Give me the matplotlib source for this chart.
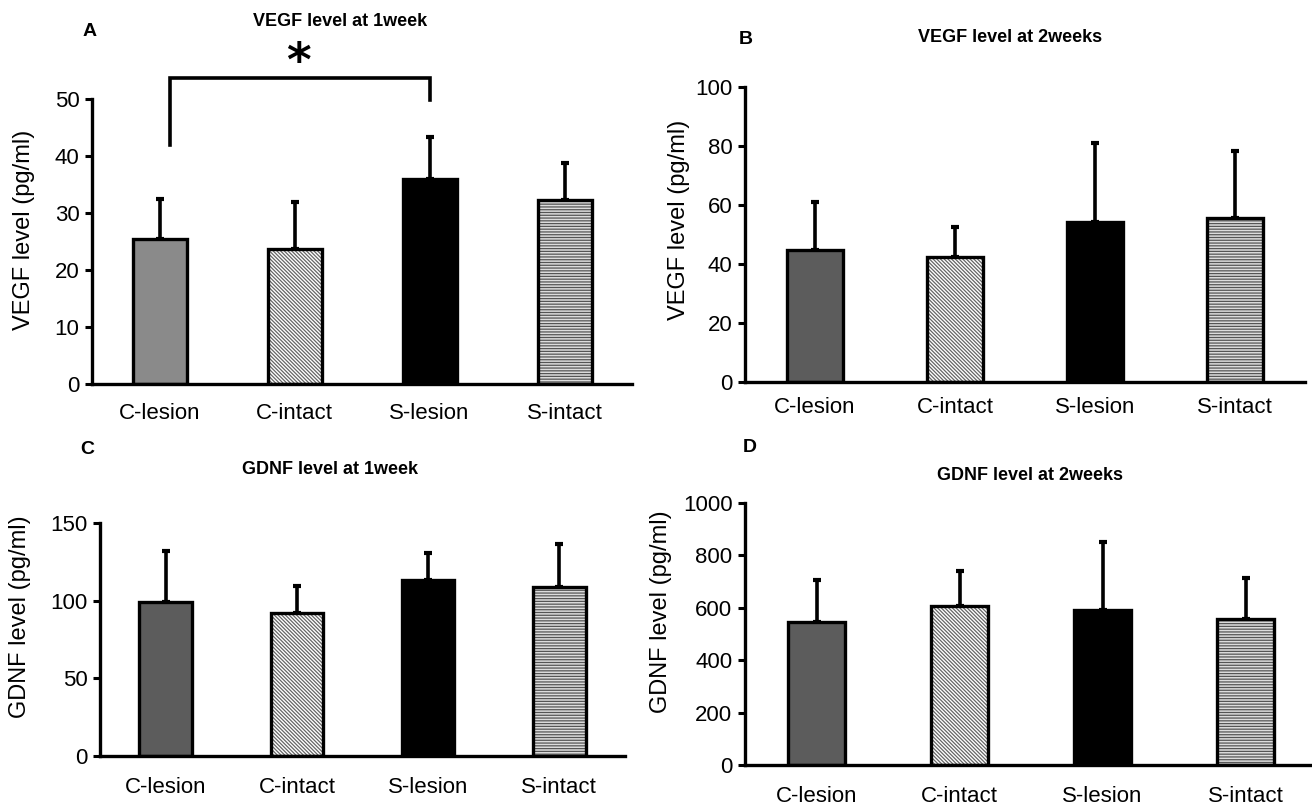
import matplotlib
matplotlib.use("Agg")
import matplotlib.pyplot as plt
import numpy as np

plt.rcParams['font.family'] = ['Liberation Sans', 'DejaVu Sans']
plt.rcParams['hatch.linewidth'] = 0.9

groups = ["C-lesion", "C-intact", "S-lesion", "S-intact"]

# panel data (mean, SD)
vegf_1w = [25.5, 23.7, 36.0, 32.2]
vegf_1w_sd = [7.0, 8.2, 7.3, 6.6]
vegf_2w = [44.6, 42.4, 54.3, 55.7]
vegf_2w_sd = [16.4, 10.1, 26.8, 22.6]
gdnf_1w = [99.1, 92.2, 113.6, 108.6]
gdnf_1w_sd = [32.7, 17.4, 16.8, 27.7]
gdnf_2w = [544, 605, 593, 557]
gdnf_2w_sd = [162, 136, 258, 158]

W, H = 1312, 807
fig = plt.figure(figsize=(W / 100, H / 100), dpi=100)


def px_axes(left, right, bottom, top):
    return fig.add_axes([left / W, 1 - bottom / H, (right - left) / W, (bottom - top) / H])


def draw_panel(ax, vals, sds, ymax, step, ylabel, lesion_color, pad, ylab_x, ylab_y):
    x = np.arange(4) + 0.5
    w = 0.4
    # fills
    ax.bar(x[0], vals[0], w, color=lesion_color, linewidth=0, zorder=2)
    ax.bar(x[1], vals[1], w, color="white", edgecolor="#666666", hatch="\\" * 9, linewidth=0, zorder=2)
    ax.bar(x[2], vals[2], w, color="black", linewidth=0, zorder=2)
    ax.bar(x[3], vals[3], w, color="#dddddd", edgecolor="#555555", hatch="-" * 6, linewidth=0, zorder=2)
    # outlines
    ax.bar(x, vals, w, facecolor="none", edgecolor="black", linewidth=2.4, zorder=3)
    ax.errorbar(x, vals, yerr=[np.zeros(4), sds], fmt="none", ecolor="black",
                elinewidth=2.6, capsize=3, capthick=3, zorder=1)
    ax.set_xlim(0, 4)
    ax.set_ylim(0, ymax)
    ax.set_yticks(np.arange(0, ymax + step / 2, step))
    ax.set_xticks(x)
    ax.set_xticklabels(groups)
    ax.tick_params(axis="x", length=0, labelsize=16, pad=pad)
    ax.tick_params(axis="y", length=5, width=2.2, labelsize=16, direction="out", pad=4)
    for s in ["top", "right"]:
        ax.spines[s].set_visible(False)
    for s in ["left", "bottom"]:
        ax.spines[s].set_linewidth(2.4)
    ax.set_ylabel(ylabel, fontsize=17)
    ax.yaxis.set_label_coords(ylab_x, ylab_y)


axA = px_axes(92, 632, 384, 99)
draw_panel(axA, vegf_1w, vegf_1w_sd, 50, 10, "VEGF level (pg/ml)", "#8a8a8a", 14, -0.106, 0.54)
axB = px_axes(745, 1305, 382, 87)
draw_panel(axB, vegf_2w, vegf_2w_sd, 100, 20, "VEGF level (pg/ml)", "#5c5c5c", 11, -0.098, 0.55)
axC = px_axes(100, 625, 756, 523)
draw_panel(axC, gdnf_1w, gdnf_1w_sd, 150, 50, "GDNF level (pg/ml)", "#5c5c5c", 15, -0.131, 0.6)
axD = px_axes(745, 1317, 765, 503)
draw_panel(axD, gdnf_2w, gdnf_2w_sd, 1000, 200, "GDNF level (pg/ml)", "#5c5c5c", 15, -0.128, 0.584)

# significance bracket in panel A
axA.plot([0.58, 0.58, 2.5, 2.5], [41.9, 53.7, 53.7, 49.8], color="black", lw=2.6,
         clip_on=False, solid_joinstyle="miter")
axA.text(1.53, 56.2, "*", ha="center", va="center", fontsize=34, fontweight="bold",
         family="DejaVu Sans")

# titles and panel letters
titles = [(340, 22, "VEGF level at 1week"), (1010, 38, "VEGF level at 2weeks"),
          (330, 470, "GDNF level at 1week"), (1030, 476, "GDNF level at 2weeks")]
for tx, ty, t in titles:
    fig.text(tx / W, 1 - ty / H, t, ha="center", va="center", fontsize=13, fontweight="bold")
for lx, ly, t in [(90, 32, "A"), (746, 40, "B"), (87, 449, "C"), (750, 447, "D")]:
    fig.text(lx / W, 1 - ly / H, t, ha="center", va="center", fontsize=14, fontweight="bold")

fig.savefig("out.png", dpi=100)
